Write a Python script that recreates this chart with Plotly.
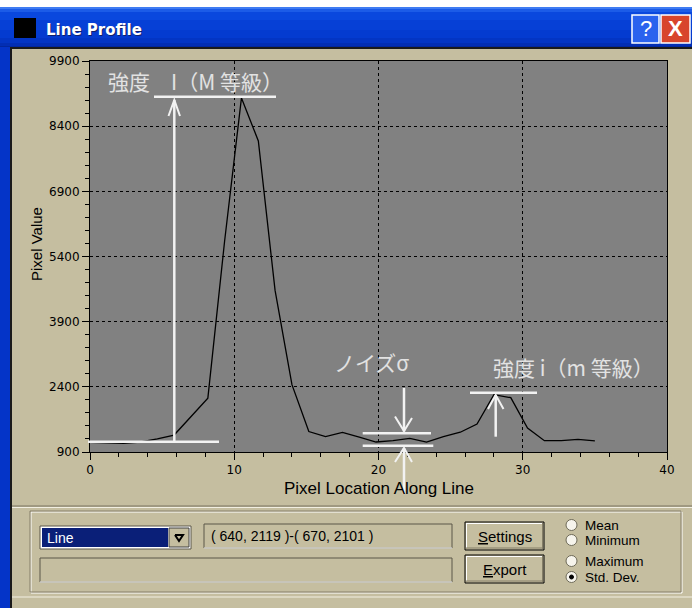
import plotly.graph_objects as go

# ---- data ----
pixel_location = [0, 1.17, 2.33, 3.5, 4.67, 5.83, 7.0, 8.17, 9.33, 10.5, 11.67,
                  12.83, 14.0, 15.17, 16.33, 17.5, 18.67, 19.83, 21.0, 22.17, 23.33,
                  24.5, 25.67, 26.83, 28.0, 29.17, 30.33, 31.5, 32.67, 33.83, 35.0]
pixel_value = [1125, 1105, 1100, 1130, 1200, 1290, 1705, 2140, 5750, 9050, 8060,
               4620, 2450, 1370, 1255, 1350, 1240, 1130, 1160, 1215, 1130,
               1255, 1355, 1545, 2220, 2150, 1450, 1160, 1160, 1190, 1155]
y_ticks = [900, 2400, 3900, 5400, 6900, 8400, 9900]
y_tick_text = ["900", "2400", "3900", "5400", "6900", "8400", "9900"]
x_ticks = [0, 10, 20, 30, 40]
x_tick_text = ["0", "10", "20", "30", "40"]
y_title = "Pixel Value"
x_title = "Pixel Location Along Line"
window_title = "Line Profile"
label_big = "強度　I（M 等級）"
label_noise = "ノイズσ"
label_small = "強度 i（m 等級）"
coord_text = "( 640, 2119 )-( 670, 2101 )"
radio_labels = ["Mean", "Minimum", "Maximum", "Std. Dev."]

W, H = 692, 608
L, R, T, B = 90, 667, 61, 452


def px(x):
    return (x - L) / (R - L)


def py(y):
    return (B - y) / (B - T)


shapes = []
annotations = []


def rect(x0, y0, x1, y1, fill=None, line=None, lw=0, layer="above"):
    d = dict(type="rect", xref="paper", yref="paper", x0=px(x0), x1=px(x1),
             y0=py(y1), y1=py(y0), layer=layer,
             line=dict(width=lw, color=line or "rgba(0,0,0,0)"))
    if fill:
        d["fillcolor"] = fill
    shapes.append(d)


def seg(x0, y0, x1, y1, color, w=1):
    shapes.append(dict(type="line", xref="paper", yref="paper",
                       x0=px(x0), y0=py(y0), x1=px(x1), y1=py(y1),
                       line=dict(color=color, width=w), layer="above"))


def path(points_list, color, w):
    p = ""
    for pts in points_list:
        p += "M" + " L".join("%.5f,%.5f" % (px(a), py(b)) for a, b in pts) + " "
    shapes.append(dict(type="path", xref="paper", yref="paper", path=p.strip(),
                       line=dict(color=color, width=w), layer="above"))


def text(x, y, s, size=14, color="black", family="Liberation Sans", xanchor="left",
         angle=0):
    annotations.append(dict(xref="paper", yref="paper", x=px(x), y=py(y), text=s,
                            showarrow=False, xanchor=xanchor, yanchor="middle",
                            textangle=angle,
                            font=dict(size=size, color=color, family=family)))


BEIGE = "#c5bea0"
DARK = "#5a5648"

# ---- window chrome ----
rect(0, 0, 692, 7, fill="white")
grad = [(7, "#3f7cf2"), (9, "#1c5ce8"), (12, "#0a48de"), (20, "#0640d6"),
        (30, "#043bd0"), (38, "#0335c4"), (43, "#022eb4"), (46, "#02279e")]
for i in range(len(grad)):
    y0 = grad[i][0]
    y1 = grad[i + 1][0] if i + 1 < len(grad) else 48
    rect(0, y0, 692, y1, fill=grad[i][1])
rect(0, 47, 10, 608, fill="#0434c8")
rect(10, 47, 12, 608, fill="#1a1a1a")
rect(10, 47, 692, 49, fill="#1a1a1a")
rect(14, 18, 36, 38, fill="black")
text(45, 31, "<b>" + window_title + "</b>", size=15, color="#10206a",
     family="DejaVu Sans")
text(44, 30, "<b>" + window_title + "</b>", size=15, color="white",
     family="DejaVu Sans")
rect(632, 15, 659, 43, fill="#2a62ee", line="white", lw=1.5)
text(645.5, 29, "?", size=22, color="white", family="Liberation Sans",
     xanchor="center")
rect(661, 15, 690, 43, fill="#d8452c", line="white", lw=1.5)
text(675.5, 29, "<b>X</b>", size=22, color="white", family="Liberation Sans",
     xanchor="center")

# chart panel bottom edge
seg(12, 506, 692, 506, "#7a7562", 1)
seg(12, 507.5, 692, 507.5, "#f2efe2", 1)
seg(12, 597, 692, 597, "#f2efe2", 1)

# group box (etched)
rect(31, 512, 682, 593, line="white", lw=1)
rect(30, 511, 681, 592, line="#857f68", lw=1)

# dropdown
rect(40, 526, 191, 549, fill="white", line=DARK, lw=1)
rect(42, 528, 168, 547, fill="#0a1f78")
rect(169, 528, 189, 547, fill=BEIGE, line="#404040", lw=1)
path([[(175, 535), (183, 535), (179, 541), (175, 535)]], "black", 2)
text(45, 538, "Line", size=14, color="white")

# coordinate box
rect(204, 524, 452, 548, fill=BEIGE, line=DARK, lw=1)
seg(204, 548, 452, 548, "white", 1)
text(209, 536, coord_text, size=14)

# empty box
rect(40, 558, 452, 582, fill=BEIGE, line=DARK, lw=1)
seg(40, 582, 452, 582, "white", 1)

# buttons
for (y0, y1, lab) in [(522, 550, '<span style="text-decoration:underline">S</span>ettings'),
                      (555, 583, '<span style="text-decoration:underline">E</span>xport')]:
    rect(465, y0, 544, y1, fill=BEIGE, line="black", lw=1)
    seg(466, y0 + 1.5, 542, y0 + 1.5, "white", 1)
    seg(466.5, y0 + 1, 466.5, y1 - 2, "white", 1)
    seg(466, y1 - 2, 543, y1 - 2, "#857f68", 1)
    seg(542.5, y0 + 1, 542.5, y1 - 1, "#857f68", 1)
    text(504.5, (y0 + y1) / 2, lab, size=15, xanchor="center")

# radio buttons
radio_y = [525, 540, 561, 577]
for i, (lab, yy) in enumerate(zip(radio_labels, radio_y)):
    shapes.append(dict(type="circle", xref="paper", yref="paper",
                       x0=px(566), x1=px(577), y0=py(yy + 5.5), y1=py(yy - 5.5),
                       fillcolor="#f6f4ec", line=dict(color="#6e6a58", width=1),
                       layer="above"))
    if lab == "Std. Dev.":
        shapes.append(dict(type="circle", xref="paper", yref="paper",
                           x0=px(569.5), x1=px(573.5), y0=py(yy + 2), y1=py(yy - 2),
                           fillcolor="black", line=dict(color="black", width=1),
                           layer="above"))
    text(583, yy, lab, size=13.5)

# ---- white overlays on the chart ----
WL = "#f2f2f2"
path([[(154, 96.7), (276, 96.7)]], WL, 2.5)
path([[(174.3, 100), (174.3, 441.7)]], WL, 2.5)
path([[(168.5, 116), (174.3, 100), (180, 116)]], WL, 2)
path([[(88, 441.7), (219, 441.7)]], WL, 2.5)
path([[(362.7, 433.3), (431, 433.3)], [(362.7, 445.7), (433.3, 445.7)]], WL, 2.5)
path([[(404, 388), (404, 431.5)]], WL, 2.5)
path([[(395, 416.5), (404, 431), (412, 418)]], WL, 2)
path([[(404, 448), (404, 494)]], WL, 2.5)
path([[(395, 462), (404, 448), (412, 462)]], WL, 2)
path([[(470, 392.7), (537, 392.7)]], WL, 2.5)
path([[(495.7, 395), (495.7, 436.7)]], WL, 2.5)
path([[(488, 409), (495.7, 395), (503.5, 409)]], WL, 2)

TXT = "#e2e2e2"
text(106, 81, label_big, size=21, color=TXT, family="Noto Sans CJK JP")
text(332, 362, label_noise, size=21, color=TXT, family="Noto Sans CJK JP")
text(491, 367, label_small, size=21, color=TXT, family="Noto Sans CJK JP")

# axis titles
text(37, 244, y_title, size=15, angle=-90, xanchor="center")
text(378.5, 488, x_title, size=17, xanchor="center")

fig = go.Figure(go.Scatter(x=pixel_location, y=pixel_value, mode="lines",
                           line=dict(color="black", width=1.3),
                           hoverinfo="skip", showlegend=False))

axis_common = dict(
    ticks="outside", ticklen=7, tickcolor="black", tickwidth=1,
    showline=True, linecolor="black", linewidth=1, mirror=True,
    showgrid=True, gridcolor="black", gridwidth=1, griddash="3px,3px",
    zeroline=False, fixedrange=True,
    tickfont=dict(family="DejaVu Sans", size=12, color="black"),
)

fig.update_layout(
    width=W, height=H, autosize=False,
    margin=dict(l=L, r=W - R, t=T, b=H - B, pad=0),
    paper_bgcolor=BEIGE, plot_bgcolor="#818181",
    xaxis=dict(range=[0, 40], tickmode="array", tickvals=x_ticks, ticktext=x_tick_text,
               minor=dict(tickmode="linear", tick0=0, dtick=2, ticks="outside",
                          ticklen=4, tickcolor="black", showgrid=False),
               **axis_common),
    yaxis=dict(range=[900, 9900], tickmode="array", tickvals=y_ticks, ticktext=y_tick_text,
               minor=dict(tickmode="linear", tick0=900, dtick=300, ticks="outside",
                          ticklen=4, tickcolor="black", showgrid=False),
               **axis_common),
    shapes=shapes, annotations=annotations,
)

fig.write_html("out.html", config={"displayModeBar": False},
               post_script="document.body.style.margin='0';document.body.style.overflow='hidden';")
